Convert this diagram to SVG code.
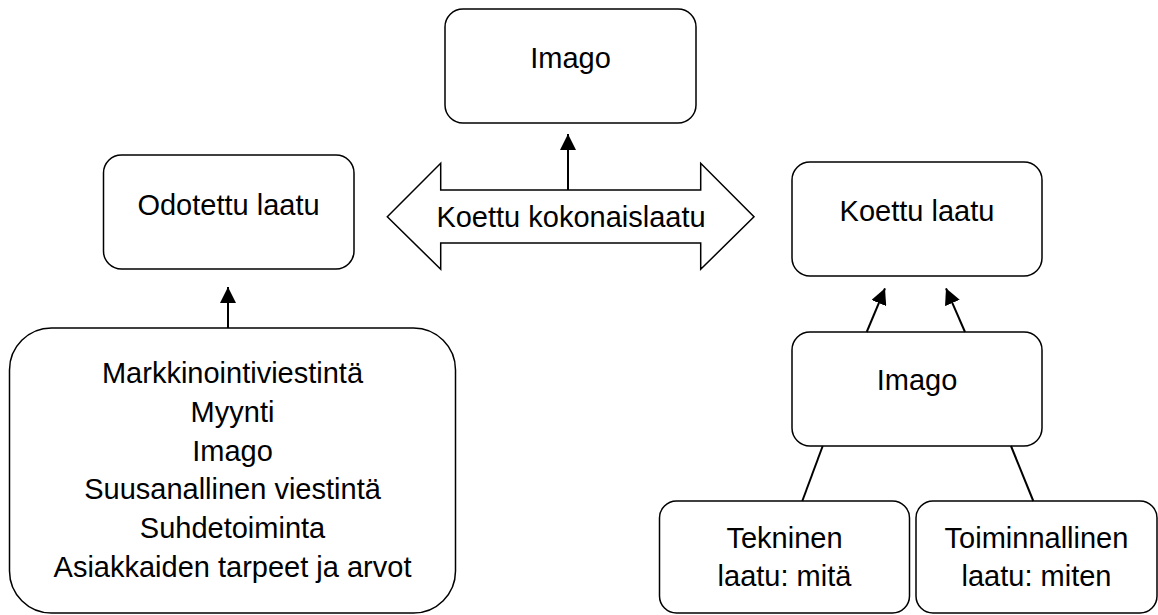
<svg xmlns="http://www.w3.org/2000/svg" width="1158" height="615" viewBox="0 0 1158 615">
<style>
.box{fill:#fff;stroke:#000;stroke-width:1.5}
.t{font-family:"Liberation Sans",Arial,sans-serif;font-size:29px;fill:#000;text-anchor:middle}
.c{stroke:#000;stroke-width:2;fill:none}
</style>
<defs>
<marker id="ah" markerUnits="userSpaceOnUse" markerWidth="16" markerHeight="16" refX="15" refY="7.5" orient="auto" viewBox="0 0 15 15">
<path d="M0,0 L15,7.5 L0,15 z" fill="#000"/>
</marker>
</defs>
<rect width="1158" height="615" fill="#fff"/>
<g id="imago-top">
<rect class="box" x="445" y="9" width="251" height="114" rx="18"/>
<text class="t" x="570.5" y="68">Imago</text>
</g>
<g id="odotettu">
<rect class="box" x="103.5" y="155" width="250.5" height="114" rx="18"/>
<text class="t" x="228.5" y="215">Odotettu laatu</text>
</g>
<g id="kokonaislaatu">
<polygon class="box" points="387.3,216.7 440.7,163.3 440.7,190 700.7,190 700.7,163.3 754,216.7 700.7,269.3 700.7,243 440.7,243 440.7,269.3"/>
<text class="t" x="571" y="227">Koettu kokonaislaatu</text>
</g>
<g id="koettu">
<rect class="box" x="792" y="162" width="250" height="114" rx="18"/>
<text class="t" x="917" y="220.5">Koettu laatu</text>
</g>
<g id="imago-right">
<rect class="box" x="792" y="332" width="250" height="114" rx="18"/>
<text class="t" x="917" y="389.5">Imago</text>
</g>
<g id="lahteet">
<rect class="box" x="9.5" y="328" width="446" height="285" rx="42"/>
<text class="t" x="232.5" y="383">Markkinointiviestintä</text>
<text class="t" x="232.5" y="421.8">Myynti</text>
<text class="t" x="232.5" y="460.6">Imago</text>
<text class="t" x="232.5" y="499.4">Suusanallinen viestintä</text>
<text class="t" x="232.5" y="538.2">Suhdetoiminta</text>
<text class="t" x="232.5" y="577">Asiakkaiden tarpeet ja arvot</text>
</g>
<g id="tekninen">
<rect class="box" x="659.5" y="501" width="250" height="112" rx="17"/>
<text class="t" x="784.5" y="548">Tekninen</text>
<text class="t" x="784.5" y="586">laatu: mitä</text>
</g>
<g id="toiminnallinen">
<rect class="box" x="916" y="501" width="241" height="112" rx="17"/>
<text class="t" x="1036.5" y="548">Toiminnallinen</text>
<text class="t" x="1036.5" y="586">laatu: miten</text>
</g>
<g id="connectors">
<line class="c" x1="228" y1="328" x2="228" y2="287" marker-end="url(#ah)"/>
<line class="c" x1="568" y1="190" x2="568" y2="134" marker-end="url(#ah)"/>
<line class="c" x1="866.7" y1="332" x2="885" y2="288.3" marker-end="url(#ah)"/>
<line class="c" x1="965" y1="332" x2="946" y2="288.3" marker-end="url(#ah)"/>
<line class="c" x1="822.7" y1="446" x2="802.3" y2="501"/>
<line class="c" x1="1011" y1="446" x2="1033.3" y2="501"/>
</g>
</svg>
